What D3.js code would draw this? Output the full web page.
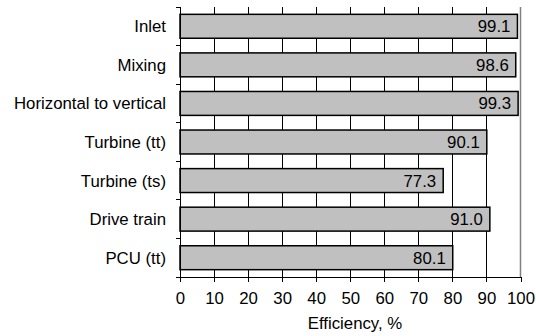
<!DOCTYPE html>
<html>
<head>
<meta charset="utf-8">
<script src="https://cdn.jsdelivr.net/npm/d3@7"></script>
<style>
  html, body { margin: 0; padding: 0; background: #fff; }
  svg { display: block; font-family: Arial, "Liberation Sans", sans-serif; }
</style>
</head>
<body>
<svg id="chart" width="536" height="336"></svg>
<script>
// Component efficiencies, top to bottom
const categories = ["Inlet", "Mixing", "Horizontal to vertical", "Turbine (tt)", "Turbine (ts)", "Drive train", "PCU (tt)"];
const efficiency = [99.1, 98.6, 99.3, 90.1, 77.3, 91.0, 80.1];
const xTicks = [0, 10, 20, 30, 40, 50, 60, 70, 80, 90, 100];
const xTitle = "Efficiency, %";

const FS = 16.8;
const svg = d3.select("#chart");
const m = { left: 180, right: 15, top: 7, bottom: 59 };
const W = 536, H = 336;

const x = d3.scaleLinear().domain([0, 100]).range([m.left, W - m.right - 0.5]);
const y = d3.scaleBand().domain(categories).range([m.top, H - m.bottom]).paddingInner(0.38).paddingOuter(0.19);
const band = d3.scaleBand().domain(categories).range([m.top, H - m.bottom]);

// vertical gridlines
svg.append("g")
  .selectAll("line")
  .data(xTicks.filter(t => t > 0 && t < 100))
  .join("line")
  .attr("x1", d => x(d)).attr("x2", d => x(d))
  .attr("y1", m.top).attr("y2", H - m.bottom)
  .attr("stroke", "#000").attr("stroke-width", 1)
  .attr("shape-rendering", "crispEdges");

// right edge of plot area
svg.append("line")
  .attr("x1", x(100)).attr("x2", x(100))
  .attr("y1", m.top).attr("y2", H - m.bottom)
  .attr("stroke", "#808080").attr("stroke-width", 1.5);

// bars
const rows = categories.map((c, i) => ({ c, v: efficiency[i] }));
svg.append("g")
  .selectAll("rect")
  .data(rows)
  .join("rect")
  .attr("x", x(0))
  .attr("y", d => y(d.c))
  .attr("width", d => x(d.v) - x(0))
  .attr("height", y.bandwidth())
  .attr("fill", "#c0c0c0")
  .attr("stroke", "#000")
  .attr("stroke-width", 1.5);

// value labels inside bar ends
svg.append("g")
  .selectAll("text")
  .data(rows)
  .join("text")
  .attr("x", d => x(d.v) - 7)
  .attr("y", d => y(d.c) + y.bandwidth() / 2)
  .attr("dy", "0.36em")
  .attr("text-anchor", "end")
  .attr("font-size", FS)
  .attr("fill", "#000")
  .text(d => d.v.toFixed(1));

// category axis: line with ticks at band boundaries
const yAxisG = svg.append("g");
yAxisG.append("line")
  .attr("x1", x(0)).attr("x2", x(0))
  .attr("y1", m.top).attr("y2", H - m.bottom + 4)
  .attr("stroke", "#000").attr("stroke-width", 1)
  .attr("shape-rendering", "crispEdges");
const bounds = categories.map(c => band(c)).concat([H - m.bottom]);
yAxisG.selectAll(".tk")
  .data(bounds)
  .join("line")
  .attr("x1", x(0) - 4).attr("x2", x(0))
  .attr("y1", d => d).attr("y2", d => d)
  .attr("stroke", "#000")
  .attr("shape-rendering", "crispEdges");
yAxisG.selectAll("text")
  .data(categories)
  .join("text")
  .attr("x", 166)
  .attr("y", d => band(d) + band.bandwidth() / 2)
  .attr("dy", "0.36em")
  .attr("text-anchor", "end")
  .attr("font-size", FS)
  .attr("fill", "#000")
  .text(d => d);

// value axis
const xAxis = d3.axisBottom(x).tickValues(xTicks).tickSize(5).tickPadding(10).tickFormat(d3.format("d"));
const xg = svg.append("g")
  .attr("transform", `translate(0,${H - m.bottom})`)
  .call(xAxis);
xg.select(".domain").attr("stroke", "#000").attr("shape-rendering", "crispEdges");
xg.selectAll(".tick line").attr("stroke", "#000").attr("shape-rendering", "crispEdges");
xg.selectAll(".tick text")
  .attr("font-size", FS)
  .attr("font-family", "Arial, 'Liberation Sans', sans-serif")
  .attr("fill", "#000");

svg.append("text")
  .attr("x", 355)
  .attr("y", 329)
  .attr("text-anchor", "middle")
  .attr("font-size", FS)
  .attr("fill", "#000")
  .text(xTitle);
</script>
</body>
</html>
